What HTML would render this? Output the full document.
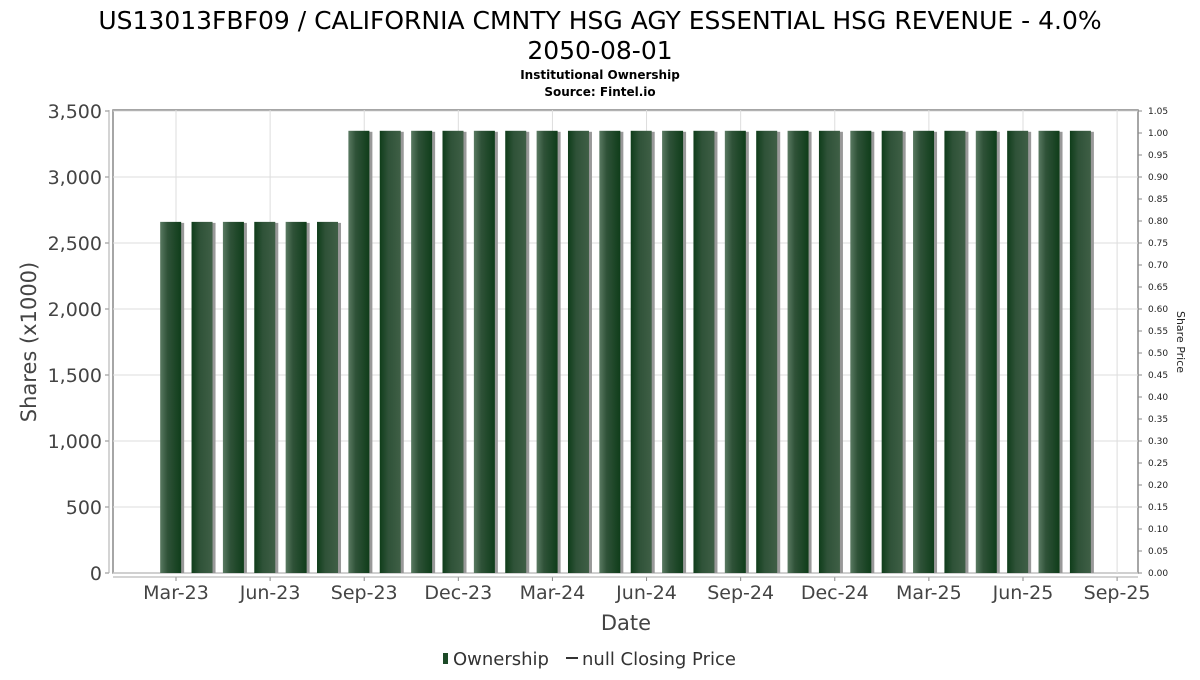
<!DOCTYPE html>
<html><head><meta charset="utf-8"><style>
body{margin:0;background:#fff;}
svg text{font-family:"DejaVu Sans","Liberation Sans",sans-serif;}
</style></head><body>
<svg id="chart" width="1200" height="675" xmlns="http://www.w3.org/2000/svg">
<defs>
<linearGradient id="bg1" x1="0" x2="1" y1="0" y2="0">
<stop offset="0" stop-color="#5a7a62"/><stop offset="0.35" stop-color="#2f5238"/><stop offset="1" stop-color="#0f3d1a"/>
</linearGradient>
<linearGradient id="bg2" x1="0" x2="1" y1="0" y2="0">
<stop offset="0" stop-color="#0f3d1a"/><stop offset="0.4" stop-color="#2f5238"/><stop offset="1" stop-color="#3f5f46"/>
</linearGradient>
</defs>
<text x="600" y="29" font-size="25" text-anchor="middle" fill="#000">US13013FBF09 / CALIFORNIA CMNTY HSG AGY ESSENTIAL HSG REVENUE - 4.0%</text>
<text x="600" y="59" font-size="25" text-anchor="middle" fill="#000">2050-08-01</text>
<text x="600" y="79" font-size="12" font-weight="bold" text-anchor="middle">Institutional Ownership</text>
<text x="600" y="96" font-size="12" font-weight="bold" text-anchor="middle">Source: Fintel.io</text>
<rect x="113" y="110" width="1025" height="463" fill="#fff" stroke="#888" stroke-width="1.5"/>
<g id="grid"></g>
<g id="bars"></g>
<g id="axes"></g>
<text transform="translate(36,342) rotate(-90)" font-size="21" fill="#444" text-anchor="middle">Shares (x1000)</text>
<text transform="translate(1177,342) rotate(90)" font-size="11" fill="#222" text-anchor="middle">Share Price</text>
<text x="626" y="630" font-size="21" fill="#444" text-anchor="middle">Date</text>
<g>
<rect x="443" y="653" width="5" height="11" fill="#1c4a28"/>
<text x="453" y="665" font-size="18" fill="#333">Ownership</text>
<line x1="566" y1="658" x2="578" y2="658" stroke="#333" stroke-width="2"/>
<text x="582" y="665" font-size="18" fill="#333">null Closing Price</text>
</g>
</svg>
<script>
const xLabels=["Mar-23","Jun-23","Sep-23","Dec-23","Mar-24","Jun-24","Sep-24","Dec-24","Mar-25","Jun-25","Sep-25"];
const yTicks=[0,500,1000,1500,2000,2500,3000,3500];
const y2Ticks=[0,0.05,0.1,0.15,0.2,0.25,0.3,0.35,0.4,0.45,0.5,0.55,0.6,0.65,0.7,0.75,0.8,0.85,0.9,0.95,1.0,1.05];
const ownership=[2660,2660,2660,2660,2660,2660,3350,3350,3350,3350,3350,3350,3350,3350,3350,3350,3350,3350,3350,3350,3350,3350,3350,3350,3350,3350,3350,3350,3350,3350];
const NS="http://www.w3.org/2000/svg";
const x=m=>176+m*31.37; // month index from Mar-23
const y=v=>573-v/3500*462;
const y2=v=>573-v/1.05*462;
function mk(t,a,p){const e=document.createElementNS(NS,t);for(const k in a)e.setAttribute(k,a[k]);p.appendChild(e);return e;}
const grid=document.getElementById('grid'),bars=document.getElementById('bars'),axes=document.getElementById('axes');
yTicks.forEach(v=>{
 const g=mk('line',{x1:113,x2:1138,y1:y(v),y2:y(v),stroke:'#ddd'},grid);
 
 mk('line',{x1:105,x2:109,y1:y(v),y2:y(v),stroke:'#888'},axes);
 const t=mk('text',{x:102,y:y(v)+7,'font-size':19,'text-anchor':'end',fill:'#444'},axes);
 t.textContent=v.toLocaleString('en-US');
 
});
mk('line',{x1:109,x2:109,y1:110,y2:573,stroke:'#aaa'},axes);
xLabels.forEach((l,i)=>{
 const xx=x(i*3);
 const g=mk('line',{x1:xx,x2:xx,y1:110,y2:573,stroke:'#ddd'},grid);
 
 mk('line',{x1:xx,x2:xx,y1:577,y2:581,stroke:'#888'},axes);
 const t=mk('text',{x:xx,y:599,'font-size':19,'text-anchor':'middle',fill:'#444'},axes);
 t.textContent=l;
 
});
mk('line',{x1:113,x2:1138,y1:577,y2:577,stroke:'#aaa'},axes);
y2Ticks.forEach(v=>{
 mk('line',{x1:1138,x2:1142,y1:y2(v),y2:y2(v),stroke:'#888'},axes);
 const t=mk('text',{x:1148,y:y2(v)+3,'font-size':9,fill:'#222'},axes);
 t.textContent=v.toFixed(2);
 
});
ownership.forEach((v,i)=>{
 const cx=x(i-0.17),w=21;
 const s=mk('rect',{x:cx-w/2+3,y:y(v)+1,width:w,height:573-y(v)-1,fill:'#999'},bars);
 
 const b=mk('rect',{x:cx-w/2,y:y(v),width:w,height:573-y(v),fill:i%2?'url(#bg2)':'url(#bg1)'},bars);
 
});
</script>
</body></html>
